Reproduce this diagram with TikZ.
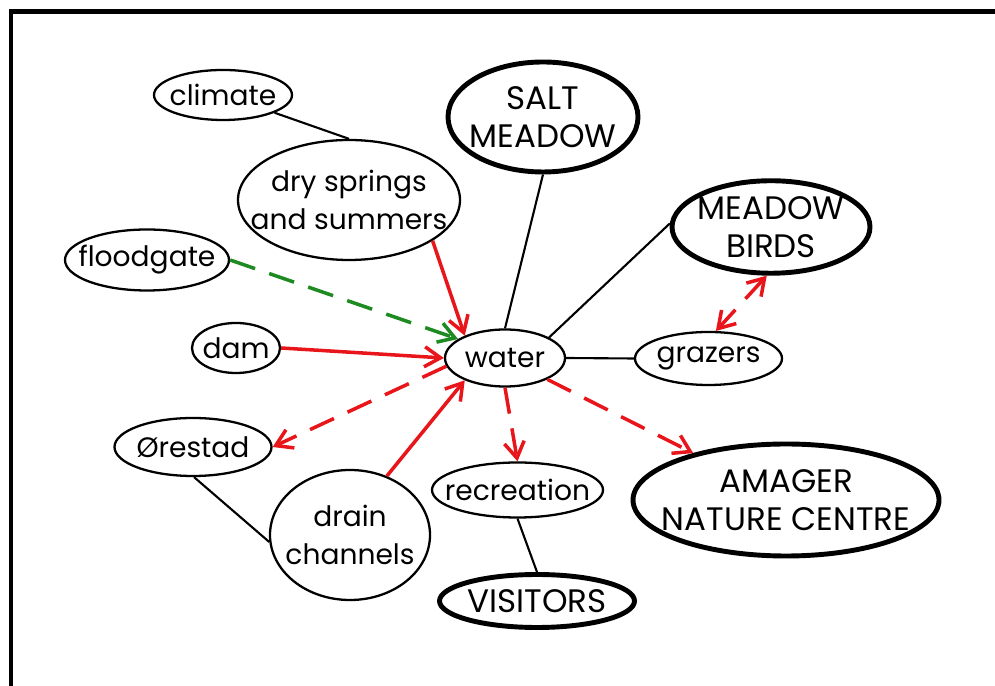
\documentclass[tikz,border=0pt]{standalone}
\usepackage{fontspec}
\setmainfont{Poppins}
\usepackage{tikz}
\usetikzlibrary{
  arrows.meta,
  shapes.geometric,
  positioning
}
\definecolor{cmRed}{HTML}{E8161B}
\definecolor{cmGreen}{HTML}{1E8A22}
\tikzset{
  cmnode/.style={
    draw, ellipse, inner sep=-8mm, line width=1.3pt, align=center,
    font=\fontsize{16}{21.5}\selectfont
  },
  cmkey/.style={cmnode, line width=2.8pt, font=\fontsize{18.5}{21.5}\selectfont},
  link/.style={line width=1.2pt, black},
  cause/.style={-{Straight Barb[length=3.2mm, width=4mm]}, line width=2pt, cmRed},
  effect/.style={cause, dash pattern=on 15pt off 8.5pt},
  control/.style={effect, cmGreen},
  frameline/.style={line width=2.8pt, black}
}

\begin{document}
\begin{tikzpicture}
  \useasboundingbox (0,0) rectangle (19.9,13.72);
  \draw[frameline] (20.2,13.49) -| (0.22,-0.3);

  % concepts
  \node[cmnode, minimum width=2.76cm, minimum height=1cm] (climate) at (4.46,11.82) {climate};
  \node[cmnode, minimum width=4.44cm, minimum height=2.4cm] (dry) at (6.98,9.72) {dry springs\\and summers};
  \node[cmnode, minimum width=3.28cm, minimum height=1.22cm] (floodgate) at (2.94,8.52) {floodgate};
  \node[cmkey, minimum width=3.8cm, minimum height=2.2cm] (salt) at (10.86,11.38) {SALT\\MEADOW};
  \node[cmkey, minimum width=3.96cm, minimum height=1.85cm] (birds) at (15.42,9.18) {MEADOW\\BIRDS};
  \node[cmnode, minimum width=1.76cm, minimum height=1cm] (dam) at (4.72,6.76) {dam};
  \node[cmnode, minimum width=2.4cm, minimum height=1.14cm] (water) at (10.1,6.56) {water};
  \node[cmnode, minimum width=2.94cm, minimum height=1.06cm] (grazers) at (14.17,6.55) {grazers};
  \node[cmnode, minimum width=3.14cm, minimum height=1.16cm] (orestad) at (3.86,4.78) {Ørestad};
  \node[cmnode, minimum width=3.42cm, minimum height=1.1cm] (recreation) at (10.35,3.92) {recreation};
  \node[cmkey, minimum width=6.12cm, minimum height=2.24cm] (amager) at (15.72,3.72) {AMAGER\\NATURE CENTRE};
  \node[cmnode, minimum width=3.2cm, minimum height=2.6cm] (drain) at (7.0,3.02) {drain\\channels};
  \node[cmkey, minimum width=3.9cm, minimum height=1.06cm] (visitors) at (10.74,1.7) {VISITORS};

  % plain links
  \draw[link] (climate.-19) -- (dry.north);
  \draw[link] (salt.south) -- (water.north);
  \draw[link] (birds.178) -- (water.25);
  \draw[link] (water.east) -- (grazers.west);
  \draw[link] (orestad.-88) -- (drain.185);
  \draw[link] (recreation.south) -- (visitors.north);

  % influences
  \draw[cause] (dry.-26) -- (water.151);
  \draw[control] (floodgate.east) -- (water.158);
  \draw[cause] (dam.east) -- (water.west);
  \draw[cause] (drain.58) -- (water.209);
  \draw[effect] (water.188) -- (orestad.east);
  \draw[effect] (water.south) -- (recreation.north);
  \draw[effect] (water) -- (amager);
  \draw[effect, {Straight Barb[length=3.2mm, width=4mm]}-{Straight Barb[length=3.2mm, width=4mm]}] (birds.-95) -- (grazers.75);
\end{tikzpicture}
\end{document}
